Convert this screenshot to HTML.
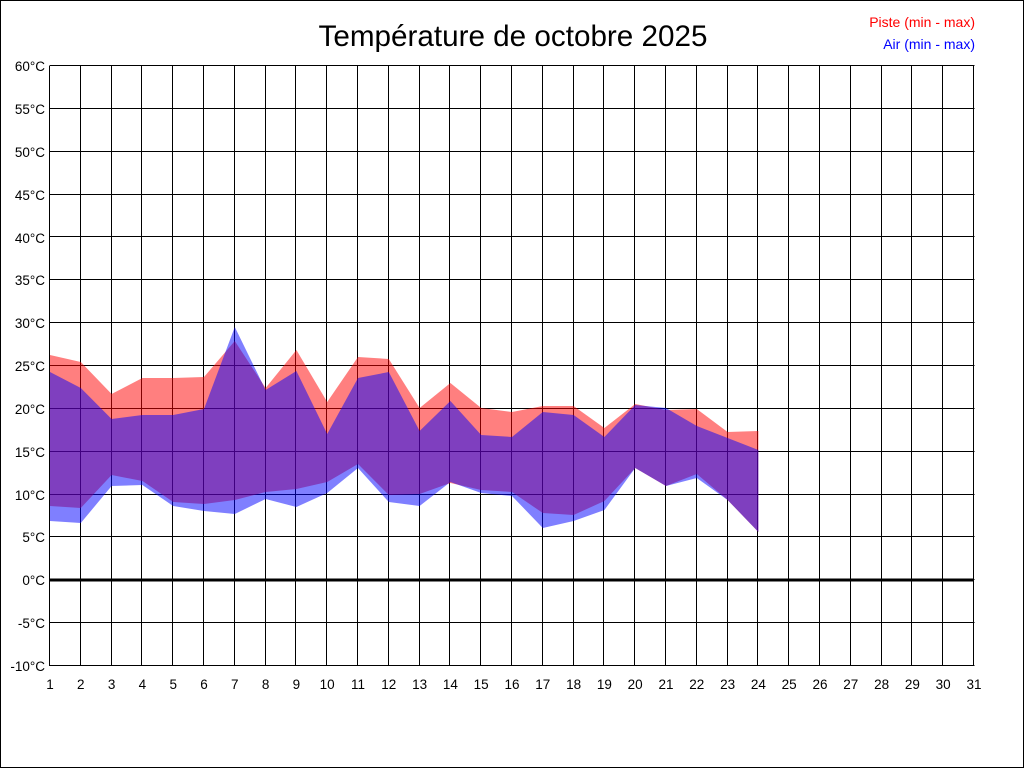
<!DOCTYPE html>
<html><head><meta charset="utf-8"><style>
html,body{margin:0;padding:0;background:#fff}
svg{display:block}
text{font-family:"Liberation Sans",Arial,sans-serif}
</style></head><body>
<svg id="s" width="1024" height="768" xmlns="http://www.w3.org/2000/svg">
<rect x="0.5" y="0.5" width="1023" height="767" fill="#fff" stroke="#000"/>
<g id="grid" stroke="#000" stroke-width="1"></g>
<polygon fill="rgba(255,0,0,0.5)" points="50,355 80.8,362 111.6,394 142.4,378 173.2,378 204,377 234.8,341 265.6,388 296.4,350 327.2,402 358,357 388.8,359 419.6,408 450.4,383 481.2,408 512,412 542.8,406 573.6,406 604.4,428 635.2,404 666,410 696.8,409 727.6,432 758.4,431 758.4,532 727.6,500 696.8,474 666,486 635.2,468 604.4,501 573.6,515 542.8,513 512,492 481.2,490 450.4,483 419.6,494 388.8,495 358,464 327.2,482 296.4,489 265.6,492 234.8,500 204,504 173.2,502 142.4,481 111.6,475 80.8,508 50,506"/>
<polygon fill="rgba(0,0,255,0.5)" points="50,372 80.8,388 111.6,419 142.4,415 173.2,415 204,409 234.8,327 265.6,390 296.4,371 327.2,434 358,378 388.8,372 419.6,431 450.4,401 481.2,435 512,437 542.8,412 573.6,415 604.4,437 635.2,405 666,408 696.8,426 727.6,438 758.4,450 758.4,532 727.6,500 696.8,478 666,486 635.2,468 604.4,510 573.6,521 542.8,528 512,496 481.2,493 450.4,482 419.6,506 388.8,502 358,468 327.2,493 296.4,507 265.6,499 234.8,514 204,511 173.2,506 142.4,485 111.6,486 80.8,523 50,521"/>
<line x1="50" y1="580" x2="974" y2="580" stroke="#000" stroke-width="3"/>
<text x="513" y="46" font-size="29.5" text-anchor="middle" textLength="389" lengthAdjust="spacingAndGlyphs">Température de octobre 2025</text>
<text x="975" y="27" font-size="14" text-anchor="end" fill="#f00">Piste (min - max)</text>
<text x="975" y="49" font-size="14" text-anchor="end" fill="#00f">Air (min - max)</text>
<g font-size="13.5" text-anchor="end" fill="#000">
<text x="45" y="71">60°C</text><text x="45" y="114">55°C</text><text x="45" y="157">50°C</text><text x="45" y="200">45°C</text><text x="45" y="243">40°C</text><text x="45" y="285">35°C</text><text x="45" y="328">30°C</text><text x="45" y="371">25°C</text><text x="45" y="414">20°C</text><text x="45" y="457">15°C</text><text x="45" y="500">10°C</text><text x="45" y="542">5°C</text><text x="45" y="585">0°C</text><text x="45" y="628">-5°C</text><text x="45" y="671">-10°C</text>
</g>
<g font-size="13.5" text-anchor="middle" fill="#000">
<text x="50" y="689">1</text><text x="80.8" y="689">2</text><text x="111.6" y="689">3</text><text x="142.4" y="689">4</text><text x="173.2" y="689">5</text><text x="204" y="689">6</text><text x="234.8" y="689">7</text><text x="265.6" y="689">8</text><text x="296.4" y="689">9</text><text x="327.2" y="689">10</text><text x="358" y="689">11</text><text x="388.8" y="689">12</text><text x="419.6" y="689">13</text><text x="450.4" y="689">14</text><text x="481.2" y="689">15</text><text x="512" y="689">16</text><text x="542.8" y="689">17</text><text x="573.6" y="689">18</text><text x="604.4" y="689">19</text><text x="635.2" y="689">20</text><text x="666" y="689">21</text><text x="696.8" y="689">22</text><text x="727.6" y="689">23</text><text x="758.4" y="689">24</text><text x="789.2" y="689">25</text><text x="820" y="689">26</text><text x="850.8" y="689">27</text><text x="881.6" y="689">28</text><text x="912.4" y="689">29</text><text x="943.2" y="689">30</text><text x="974" y="689">31</text>
</g>
</svg>
<script>
var g=document.getElementById('grid'),ns='http://www.w3.org/2000/svg';
function L(a,b,c,d){var l=document.createElementNS(ns,'line');l.setAttribute('x1',a);l.setAttribute('y1',b);l.setAttribute('x2',c);l.setAttribute('y2',d);g.appendChild(l);}
for(var i=0;i<=30;i++){var x=Math.round(50+30.8*i)-0.5;L(x,66,x,666);}
for(var j=0;j<=14;j++){var y=Math.round(66+600/14*j)-0.5;L(49.5,y,974.5,y);}
</script>
</body></html>
